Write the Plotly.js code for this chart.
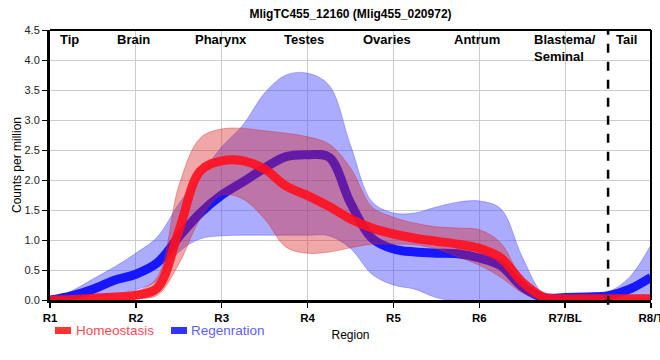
<!DOCTYPE html>
<html>
<head>
<meta charset="utf-8">
<script src="https://cdn.plot.ly/plotly-3.0.1.min.js"></script>
<style>html,body{margin:0;padding:0;background:#fff;}#chart{width:660px;height:360px;}</style>
</head>
<body>
<div id="chart"></div>
<script>
// Positions along the body (1 = R1 ... 8 = R8/T)
const positions = [1,1.25,1.5,1.75,2,2.25,2.5,2.75,3,3.25,3.5,3.75,4,4.25,4.5,4.75,5,5.25,5.5,5.75,6,6.25,6.5,6.75,7,7.25,7.5,7.75,8];
const tickValues = [1,2,3,4,5,6,7,8];
const tickLabels = ['R1','R2','R3','R4','R5','R6','R7/BL','R8/T'];

// Homeostasis: mean and band
const homeoMean  = [0.00,0.01,0.03,0.05,0.08,0.20,1.15,2.15,2.32,2.32,2.18,1.90,1.74,1.56,1.35,1.20,1.10,1.03,0.98,0.93,0.86,0.70,0.30,0.05,0.02,0.02,0.02,0.02,0.02];
const homeoUpper = [0.02,0.03,0.06,0.10,0.14,0.38,1.90,2.70,2.85,2.86,2.82,2.78,2.72,2.60,2.20,1.55,1.38,1.28,1.22,1.20,1.17,0.95,0.35,0.06,0.03,0.03,0.03,0.03,0.03];
const homeoLower = [-0.02,-0.02,-0.01,0.00,0.02,0.08,0.60,1.35,1.75,1.68,1.35,0.88,0.78,0.80,0.87,0.93,0.93,0.92,0.85,0.72,0.58,0.38,0.12,0.00,-0.01,-0.01,-0.01,-0.01,-0.01];

// Regeneration: mean and band
const regenMean  = [0.00,0.07,0.18,0.33,0.43,0.62,1.05,1.45,1.75,1.97,2.20,2.39,2.42,2.38,1.62,1.03,0.85,0.80,0.78,0.77,0.70,0.57,0.22,0.04,0.04,0.05,0.07,0.18,0.38];
const regenUpper = [0.02,0.15,0.35,0.55,0.78,1.05,1.60,2.08,2.55,2.92,3.45,3.75,3.78,3.58,2.58,1.64,1.45,1.45,1.55,1.63,1.65,1.52,0.72,0.10,0.05,0.07,0.13,0.38,0.92];
const regenLower = [-0.02,0.00,0.05,0.10,0.17,0.33,0.80,1.02,1.07,1.08,1.08,1.08,1.08,1.07,0.86,0.43,0.25,0.18,0.04,-0.02,-0.05,-0.05,-0.05,-0.02,0.00,0.01,0.02,0.02,0.00];

const regionNames = ['Tip','Brain','Pharynx','Testes','Ovaries','Antrum','Blastema/<br>Seminal','Tail'];
const regionPos   = [1.23,1.97,2.99,3.96,4.92,5.97,7.0,7.72];

const seriesNames = ['Homeostasis','Regenration'];
const tailBoundary = 7.5;

const FONT = 'Liberation Sans, Arial, sans-serif';
const spline = {shape:'spline', smoothing:1};

const traces = [
  {x:positions, y:regenLower, mode:'lines', line:Object.assign({color:'rgba(70,70,255,0.5)', width:0.8}, spline), showlegend:false, hoverinfo:'skip'},
  {x:positions, y:regenUpper, mode:'lines', fill:'tonexty', fillcolor:'rgba(70,70,255,0.45)', line:Object.assign({color:'rgba(70,70,255,0.5)', width:0.8}, spline), showlegend:false, hoverinfo:'skip'},
  {x:positions, y:regenMean, mode:'lines', name:seriesNames[1], line:Object.assign({color:'rgba(10,10,255,0.92)', width:9}, spline), showlegend:false},
  {x:positions, y:homeoLower, mode:'lines', line:Object.assign({color:'rgba(215,40,40,0.5)', width:0.8}, spline), showlegend:false, hoverinfo:'skip'},
  {x:positions, y:homeoUpper, mode:'lines', fill:'tonexty', fillcolor:'rgba(215,35,35,0.4)', line:Object.assign({color:'rgba(215,40,40,0.5)', width:0.8}, spline), showlegend:false, hoverinfo:'skip'},
  {x:positions, y:homeoMean, mode:'lines', name:seriesNames[0], line:Object.assign({color:'rgba(255,15,30,0.9)', width:9}, spline), showlegend:false}
];

const annotations = regionNames.map((t,i)=>({
  x:regionPos[i], xref:'x', y:1, yref:'paper', yanchor:'top', xanchor:'center', align:'left',
  text:'<b>'+t+'</b>', showarrow:false, font:{family:FONT, size:13, color:'#000'}
}));
// manual legend text
annotations.push({x:(74-50)/601, xref:'paper', y:(300-331)/270, yref:'paper', xanchor:'left', yanchor:'middle', showarrow:false,
  text:seriesNames[0], font:{family:FONT, size:13.5, color:'#ff4a55'}});
annotations.push({x:(189-50)/601, xref:'paper', y:(300-331)/270, yref:'paper', xanchor:'left', yanchor:'middle', showarrow:false,
  text:seriesNames[1], font:{family:FONT, size:13.5, color:'#6060ff'}});

const shapes = [
  {type:'line', xref:'x', yref:'paper', x0:tailBoundary, x1:tailBoundary, y0:-0.018, y1:1, line:{color:'#000', width:2.5, dash:'dash'}},
  {type:'line', xref:'paper', yref:'paper', x0:0, x1:1, y0:1, y1:1, line:{color:'#000', width:2}},
  {type:'line', xref:'paper', yref:'paper', x0:1, x1:1, y0:0, y1:1, line:{color:'#000', width:2}},
  {type:'rect', xref:'paper', yref:'paper', x0:(55-50)/601, x1:(71-50)/601, y0:(300-334)/270, y1:(300-327)/270, fillcolor:'#ff3333', line:{width:0}},
  {type:'rect', xref:'paper', yref:'paper', x0:(171-50)/601, x1:(187-50)/601, y0:(300-334)/270, y1:(300-327)/270, fillcolor:'#3333ff', line:{width:0}}
];

const layout = {
  width:660, height:360,
  margin:{l:50, r:9, t:30, b:60},
  paper_bgcolor:'#fff', plot_bgcolor:'#fff',
  showlegend:false,
  title:{text:'<b>MligTC455_12160 (Mlig455_020972)</b>', x:0.5, xref:'paper', y:0.972, yref:'container', xanchor:'center', font:{family:FONT, size:12, color:'#000'}},
  xaxis:{
    range:[1,8], tickvals:tickValues, ticktext:tickLabels,
    showgrid:true, gridcolor:'#cccccc', gridwidth:1, zeroline:false,
    showline:true, linecolor:'#000', linewidth:3,
    ticks:'outside', ticklen:5, tickcolor:'#000', tickwidth:1.5,
    ticklabeloverflow:'allow',
    tickfont:{family:FONT, size:11.5, color:'#000', weight:'bold'},
    title:{text:'Region', font:{family:FONT, size:12, color:'#000'}, standoff:8}
  },
  yaxis:{
    range:[0,4.5], dtick:0.5, tickformat:'.1f',
    showgrid:true, gridcolor:'#cccccc', gridwidth:1, zeroline:false,
    showline:true, linecolor:'#000', linewidth:3,
    ticks:'outside', ticklen:5, tickcolor:'#000', tickwidth:1,
    tickfont:{family:FONT, size:11, color:'#222'},
    title:{text:'Counts per million', font:{family:FONT, size:12, color:'#000'}, standoff:1}
  },
  annotations:annotations,
  shapes:shapes
};

Plotly.newPlot('chart', traces, layout, {displayModeBar:false, staticPlot:true});
</script>
</body>
</html>
